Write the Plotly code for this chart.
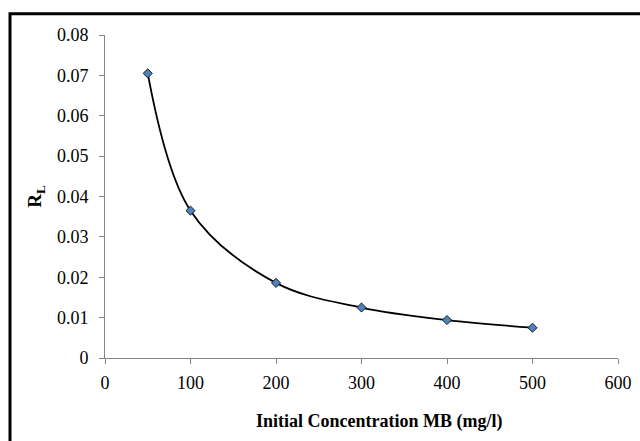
import plotly.graph_objects as go

concentration = [50, 100, 200, 300, 400, 500]
rl_values = [0.0705, 0.0365, 0.0186, 0.0125, 0.0094, 0.0075]

x_ticks = [0, 100, 200, 300, 400, 500, 600]
y_ticks = [0, 0.01, 0.02, 0.03, 0.04, 0.05, 0.06, 0.07, 0.08]
y_tick_text = ["0", "0.01", "0.02", "0.03", "0.04", "0.05", "0.06", "0.07", "0.08"]

SERIF = "Liberation Serif"
W, H = 640, 441
L, T = 105, 35          # target plot-area position on the page
PW, PH = 513, 323       # plot-area size

fig = go.Figure()
fig.add_trace(go.Scatter(
    x=concentration, y=rl_values, mode="lines+markers",
    line=dict(color="black", width=1.8, shape="spline", smoothing=1.0),
    marker=dict(symbol="diamond", size=7, color="#4F81BD",
                line=dict(color="#1a1a1a", width=1)),
    showlegend=False,
))

axis_font = dict(family=SERIF, size=18, color="black")

fig.update_layout(
    width=W, height=H,
    margin=dict(l=L, r=W - L - PW, t=T, b=H - T - PH, autoexpand=False),
    paper_bgcolor="white", plot_bgcolor="white",
    font=dict(family=SERIF, color="black"),
    xaxis=dict(range=[0, 600], tickvals=x_ticks, ticks="outside", ticklen=5,
               tickcolor="#868686", showline=True, linecolor="#868686", linewidth=1,
               showgrid=False, zeroline=False, tickfont=axis_font, ticklabelstandoff=3),
    yaxis=dict(range=[0, 0.08], tickvals=y_ticks, ticktext=y_tick_text,
               ticks="outside", ticklen=5,
               tickcolor="#868686", showline=True, linecolor="#868686", linewidth=1,
               showgrid=False, zeroline=False, tickfont=axis_font, ticklabelstandoff=7,
               title=dict(text="<b>R<sub>L</sub></b>", standoff=10,
                          font=dict(family=SERIF, size=19, color="black"))),
)

fig.add_annotation(
    text="<b>Initial Concentration MB (mg/l)</b>",
    xref="paper", yref="paper",
    x=(378.5 - L) / PW, y=(T + PH - 421) / PH,
    xanchor="center", yanchor="middle", showarrow=False,
    font=dict(family=SERIF, size=18, color="black"),
)

# outer chart border (thick black frame)
fig.add_shape(type="rect", xref="paper", yref="paper",
              x0=(10 - L) / PW, x1=(660 - L) / PW,
              y0=(T + PH - 460) / PH, y1=(T + PH - 13.8) / PH,
              line=dict(color="black", width=3), fillcolor="rgba(0,0,0,0)", layer="above")

fig.write_html("out.html", config={"displayModeBar": False},
               post_script="document.body.style.margin='0';")
